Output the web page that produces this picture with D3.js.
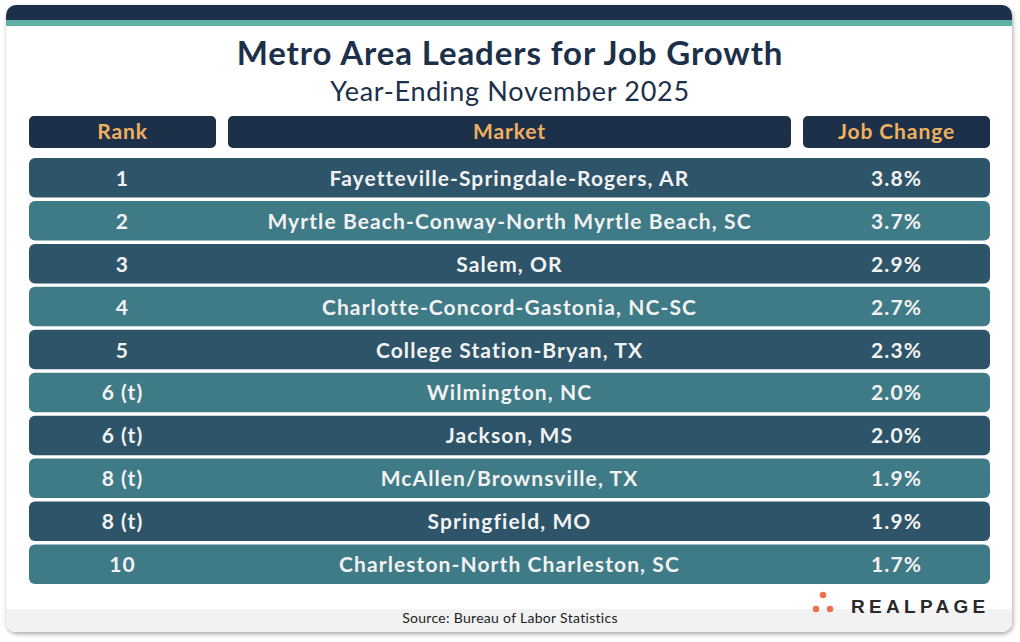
<!DOCTYPE html><html><head><meta charset="utf-8">
<script src="https://cdn.jsdelivr.net/npm/d3@7/dist/d3.min.js"></script>
<style>body{margin:0;background:#fff}svg{display:block}text{font-family:Lato,sans-serif}</style></head><body>
<svg id="c" width="1020" height="642"></svg>
<script>
const ranks=["1","2","3","4","5","6 (t)","6 (t)","8 (t)","8 (t)","10"];
const markets=["Fayetteville-Springdale-Rogers, AR","Myrtle Beach-Conway-North Myrtle Beach, SC","Salem, OR","Charlotte-Concord-Gastonia, NC-SC","College Station-Bryan, TX","Wilmington, NC","Jackson, MS","McAllen/Brownsville, TX","Springfield, MO","Charleston-North Charleston, SC"];
const jobChange=[3.8,3.7,2.9,2.7,2.3,2.0,2.0,1.9,1.9,1.7];
const headers=["Rank","Market","Job Change"];
const svg=d3.select("#c");
const defs=svg.append("defs");
const f=defs.append("filter").attr("id","sh").attr("x","-5%").attr("y","-5%").attr("width","110%").attr("height","110%");
f.append("feDropShadow").attr("dx",1).attr("dy",2).attr("stdDeviation",2).attr("flood-color","#000").attr("flood-opacity",0.35);
const cp=defs.append("clipPath").attr("id","card");
cp.append("rect").attr("x",6).attr("y",5).attr("width",1006).attr("height",627).attr("rx",10);
svg.append("rect").attr("x",6).attr("y",5).attr("width",1006).attr("height",627).attr("rx",10).attr("fill","#fff").attr("filter","url(#sh)");
const g=svg.append("g").attr("clip-path","url(#card)");
g.append("rect").attr("x",6).attr("y",5).attr("width",1006).attr("height",16).attr("fill","#1c3049");
g.append("rect").attr("x",6).attr("y",20).attr("width",1006).attr("height",6).attr("fill","#5fb0a4");
g.append("rect").attr("x",6).attr("y",609).attr("width",1006).attr("height",30).attr("fill","#f2f2f2");
svg.append("text").attr("x",510).attr("y",65).attr("text-anchor","middle").attr("font-size",33).attr("letter-spacing",0.9).attr("font-weight",700).attr("fill","#1c3049").text("Metro Area Leaders for Job Growth");
svg.append("text").attr("x",510).attr("y",101).attr("text-anchor","middle").attr("font-size",27).attr("letter-spacing",0.7).attr("fill","#1c3049").text("Year-Ending November 2025");
const cols=[{x:29,w:187},{x:228,w:563},{x:803,w:187}];
headers.forEach((h,i)=>{
 svg.append("rect").attr("x",cols[i].x).attr("y",116).attr("width",cols[i].w).attr("height",32).attr("rx",5).attr("fill","#1c3049");
 svg.append("text").attr("x",cols[i].x+cols[i].w/2).attr("y",139).attr("text-anchor","middle").attr("font-size",21).attr("letter-spacing",0.9).attr("font-weight",700).attr("fill","#f0b05e").text(h);
});
const y=d3.scaleBand().domain(d3.range(ranks.length)).range([158,584]).paddingInner(0.08).paddingOuter(0);
ranks.forEach((r,i)=>{
 const yy=y(i),h=y.bandwidth();
 svg.append("rect").attr("x",29).attr("y",yy).attr("width",961).attr("height",h).attr("rx",6).attr("fill",i%2?"#3f7a87":"#2d5468");
 const vals=[r,markets[i],jobChange[i].toFixed(1)+"%"];
 vals.forEach((v,j)=>svg.append("text").attr("x",cols[j].x+cols[j].w/2).attr("y",yy+h/2+8).attr("text-anchor","middle").attr("font-size",21).attr("letter-spacing",1.1).attr("font-weight",700).attr("fill","#f2f2f2").text(v));
});
svg.append("text").attr("x",510).attr("y",623).attr("text-anchor","middle").attr("font-size",14).attr("letter-spacing",0.3).attr("fill","#222").text("Source: Bureau of Labor Statistics");
[[823,595],[816,609],[830,609]].forEach(p=>svg.append("circle").attr("cx",p[0]).attr("cy",p[1]).attr("r",3.2).attr("fill","#ef6f4f"));
svg.append("text").attr("x",851).attr("y",613).attr("font-size",19).attr("font-weight",700).attr("letter-spacing",4.3).attr("fill","#2a2a2a").style("font-family","'Liberation Sans',sans-serif").text("REALPAGE");
</script></body></html>
